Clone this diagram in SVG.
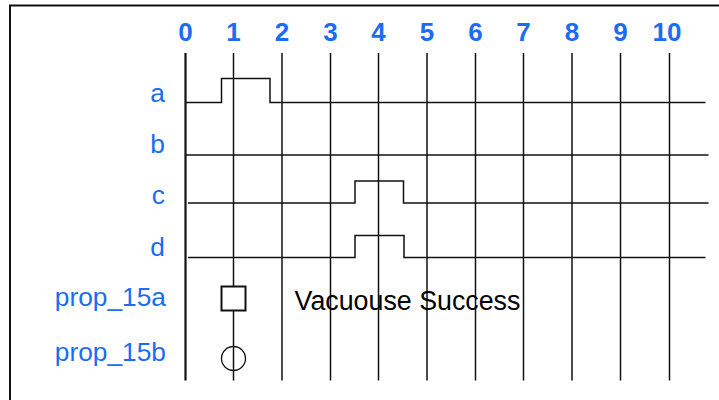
<svg xmlns="http://www.w3.org/2000/svg" width="719" height="400" viewBox="0 0 719 400">
<style>
.lbl{font-family:"Liberation Sans",Arial,sans-serif;font-size:26.3px;fill:#1a6cf2;text-anchor:end}
.num{font-family:"Liberation Sans",Arial,sans-serif;font-size:26px;font-weight:bold;fill:#1a6cf2;text-anchor:middle}
.grid{stroke:#111;stroke-width:1.5;fill:none}
.wave{stroke:#111;stroke-width:1.5;fill:none}
.note{font-family:"Liberation Sans",Arial,sans-serif;font-size:26.8px;fill:#000}
</style>
<rect width="719" height="400" fill="#fff"/>
<rect id="frame" x="10" y="5.5" width="760" height="420" fill="none" stroke="#111" stroke-width="2"/>
<g id="ticks">
<text class="num" x="185.5" y="41">0</text>
<text class="num" x="233.5" y="41">1</text>
<text class="num" x="282" y="41">2</text>
<text class="num" x="330.5" y="41">3</text>
<text class="num" x="378.5" y="41">4</text>
<text class="num" x="427" y="41">5</text>
<text class="num" x="475.5" y="41">6</text>
<text class="num" x="523.5" y="41">7</text>
<text class="num" x="572" y="41">8</text>
<text class="num" x="620.5" y="41">9</text>
<text class="num" x="667" y="41">10</text>
</g>
<g id="signal-labels">
<text id="label-a" class="lbl" x="165" y="102">a</text>
<text id="label-b" class="lbl" x="165" y="153">b</text>
<text id="label-c" class="lbl" x="165" y="204">c</text>
<text id="label-d" class="lbl" x="165" y="256">d</text>
<text id="label-prop15a" class="lbl" x="166" y="306">prop_15a</text>
<text id="label-prop15b" class="lbl" x="166" y="361">prop_15b</text>
</g>
<g id="grid" class="grid">
<line x1="185.5" y1="53" x2="185.5" y2="380.5" stroke-width="2.2"/>
<line x1="233.5" y1="53" x2="233.5" y2="380.5"/>
<line x1="282" y1="53" x2="282" y2="380.5"/>
<line x1="330.5" y1="53" x2="330.5" y2="380.5"/>
<line x1="378.5" y1="53" x2="378.5" y2="380.5"/>
<line x1="427" y1="53" x2="427" y2="380.5"/>
<line x1="475.5" y1="53" x2="475.5" y2="380.5"/>
<line x1="523.5" y1="53" x2="523.5" y2="380.5"/>
<line x1="572" y1="53" x2="572" y2="380.5"/>
<line x1="620.5" y1="53" x2="620.5" y2="380.5"/>
<line x1="669.5" y1="53" x2="669.5" y2="380.5"/>
</g>
<g id="connectors" class="wave">
<polyline id="wave-a" points="185.5,102.5 221.5,102.5 221.5,78.5 270,78.5 270,102.5 705.5,102.5"/>
<polyline id="wave-b" points="185.5,155 708.5,155"/>
<polyline id="wave-c" points="188,203 355,203 355,181 403.5,181 403.5,203 708.5,203"/>
<polyline id="wave-d" points="188,257.5 355,257.5 355,235.5 404,235.5 404,257.5 705.5,257.5"/>
</g>
<g id="prop15a-marker">
<rect x="221.5" y="286.5" width="24" height="24" fill="#fff" stroke="#111" stroke-width="2"/>
</g>
<g id="prop15b-marker">
<circle cx="233.5" cy="358.5" r="12" fill="none" stroke="#111" stroke-width="1.3"/>
</g>
<g id="annotation">
<text class="note" x="294.5" y="310">Vacuouse Success</text>
</g>
</svg>
